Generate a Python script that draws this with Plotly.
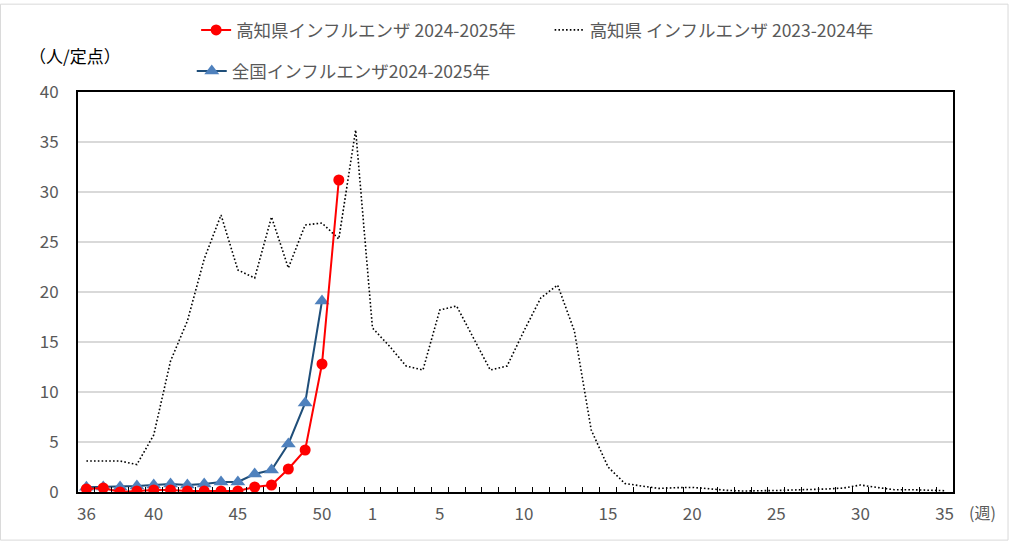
import plotly.graph_objects as go

weeks = [str(w) for w in list(range(36, 53)) + list(range(1, 36))]
tick_labels = ["36", "40", "45", "50", "1", "5", "10", "15", "20", "25", "30", "35"]

kochi_2023_2024 = [3.1, 3.1, 3.1, 2.75, 5.7, 13.1, 17.1, 23.3, 27.7, 22.2, 21.4, 27.5, 22.4, 26.7, 26.9, 25.3, 36.2,
                   16.4, 14.6, 12.6, 12.2, 18.2, 18.6, 15.4, 12.2, 12.6, 16.1, 19.4, 20.7, 16.1, 6.2, 2.5, 0.85,
                   0.6, 0.36, 0.43, 0.46, 0.33, 0.17, 0.1, 0.1, 0.15, 0.2, 0.23, 0.3, 0.4, 0.7, 0.45, 0.23, 0.23,
                   0.2, 0.13]
kochi_2024_2025 = [0.3, 0.4, 0.0, 0.1, 0.2, 0.2, 0.1, 0.1, 0.1, 0.1, 0.5, 0.7, 2.3, 4.2, 12.8, 31.2]
national_2024_2025 = [0.47, 0.5, 0.5, 0.6, 0.7, 0.8, 0.7, 0.8, 1.0, 1.0, 1.8, 2.2, 4.8, 8.9, 19.1]

FONT = "Noto Sans CJK JP"
GRAY = "#595959"

fig = go.Figure()
fig.add_trace(go.Scatter(
    x=weeks[:len(kochi_2023_2024)], y=kochi_2023_2024, mode="lines",
    name="高知県 インフルエンザ 2023-2024年",
    line=dict(color="black", width=1.6, dash="1.6px,2.2px"), legend="legend2"))
fig.add_trace(go.Scatter(
    x=weeks[:len(national_2024_2025)], y=national_2024_2025, mode="lines+markers",
    name="全国インフルエンザ2024-2025年",
    line=dict(color="#1F4E79", width=2),
    marker=dict(symbol="triangle-up", size=13, color="#4F81BD"), legend="legend3"))
fig.add_trace(go.Scatter(
    x=weeks[:len(kochi_2024_2025)], y=kochi_2024_2025, mode="lines+markers",
    name="高知県インフルエンザ 2024-2025年",
    line=dict(color="#FF0000", width=2),
    marker=dict(symbol="circle", size=11, color="#FF0000"), legend="legend"))

tickvals = weeks
ticktext = [w if w in tick_labels else "" for w in weeks]

legend_common = dict(orientation="h", xanchor="left", yanchor="middle",
                     bgcolor="rgba(0,0,0,0)", borderwidth=0,
                     font=dict(family=FONT, size=17.5, color=GRAY))

fig.update_layout(
    width=1011, height=542,
    margin=dict(l=78, r=58, t=89, b=50),
    paper_bgcolor="white", plot_bgcolor="white",
    font=dict(family=FONT, size=16, color=GRAY),
    showlegend=True,
    legend=dict(x=0.135, y=1.155, **legend_common),
    legend2=dict(x=0.539, y=1.155, **legend_common),
    legend3=dict(x=0.130, y=1.052, **legend_common),
    xaxis=dict(type="category", categoryorder="array", categoryarray=weeks,
               range=[-0.5, len(weeks) - 0.5],
               tickmode="array", tickvals=tickvals, ticktext=ticktext, tickangle=0,
               tickson="boundaries", ticks="inside", ticklen=5, tickwidth=1, tickcolor="black",
               showline=True, linecolor="black", linewidth=2, mirror=True,
               showgrid=False, tickfont=dict(family=FONT, size=17, color=GRAY),
               ticklabelstandoff=6),
    yaxis=dict(range=[0, 40], dtick=5, tick0=0, ticks="",
               showline=True, linecolor="black", linewidth=2, mirror=True,
               showgrid=True, gridcolor="#d9d9d9", gridwidth=1.5, zeroline=False,
               tickfont=dict(family=FONT, size=17, color=GRAY),
               ticklabelstandoff=14),
    annotations=[
        dict(text="（人/定点）", xref="paper", yref="paper", x=-0.003, y=1.092,
             xanchor="center", yanchor="middle",
             showarrow=False, font=dict(family=FONT, size=17, color="black")),
        dict(text="(週)", xref="paper", yref="paper", x=1.034, y=-0.05,
             xanchor="center", yanchor="middle",
             showarrow=False, font=dict(family=FONT, size=16, color=GRAY)),
    ],
    shapes=[dict(type="rect", xref="paper", yref="paper",
                 x0=-0.0886, x1=1.0629, y0=-0.1203, y1=1.2196,
                 line=dict(color="#d9d9d9", width=1), layer="below")],
)

fig.write_html("out.html", config={"displayModeBar": False},
               post_script="document.body.style.margin='0px';")
